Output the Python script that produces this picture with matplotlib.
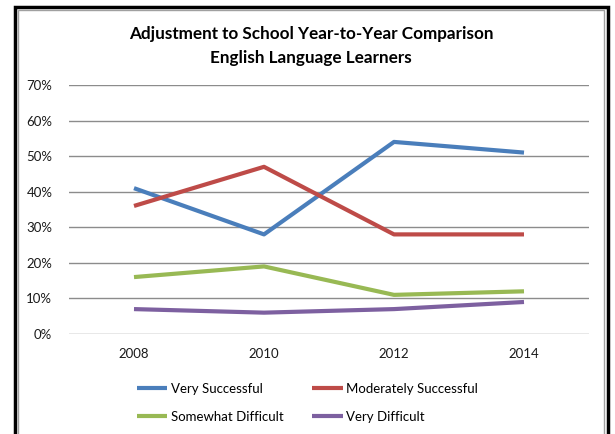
import matplotlib.pyplot as plt
from matplotlib.patches import Rectangle
from matplotlib.ticker import FuncFormatter

# survey years and share of students per adjustment rating
years = ['2008', '2010', '2012', '2014']
very_successful = [41, 28, 54, 51]
moderately_successful = [36, 47, 28, 28]
somewhat_difficult = [16, 19, 11, 12]
very_difficult = [7, 6, 7, 9]

series = [
    ('Very Successful', very_successful, '#4A7EBB'),
    ('Moderately Successful', moderately_successful, '#BE4B48'),
    ('Somewhat Difficult', somewhat_difficult, '#98B954'),
    ('Very Difficult', very_difficult, '#7D60A0'),
]

plt.rcParams['font.family'] = ['Lato', 'DejaVu Sans']

W, H = 615, 434
fig = plt.figure(figsize=(W / 100, H / 100), dpi=100)

# chart frame: black outer border plus thin gray inner border
fig.patches.append(Rectangle((15 / W, -0.1), 593 / W, 1.1 - 7 / H,
                             transform=fig.transFigure, fill=False,
                             edgecolor='black', linewidth=2.5))
fig.patches.append(Rectangle((18 / W, -0.1), 586 / W, 1.1 - 10 / H,
                             transform=fig.transFigure, fill=False,
                             edgecolor='#A0A0A0', linewidth=1))

ax = fig.add_axes([69 / W, 1 - 334 / H, 520 / W, 249 / H])
x = range(len(years))
lines = []
for name, vals, color in series:
    ln, = ax.plot(x, vals, color=color, linewidth=3, label=name,
                  solid_capstyle='butt')
    lines.append(ln)

ax.set_xlim(-0.5, len(years) - 0.5)
ax.set_ylim(0, 70)
ax.set_yticks(range(0, 71, 10))
ax.yaxis.set_major_formatter(FuncFormatter(lambda v, p: f'{int(v)}%'))
ax.set_xticks(list(x))
ax.set_xticklabels(years)
ax.grid(axis='y', color='#8C8C8C', linewidth=1)
ax.set_axisbelow(True)
for s in ax.spines.values():
    s.set_visible(False)
ax.tick_params(length=0, labelsize=9.5, colors='#1A1A1A')
ax.tick_params(axis='y', pad=12)
ax.tick_params(axis='x', pad=10)

fig.text(311 / W, 1 - 34 / H, 'Adjustment to School Year-to-Year Comparison',
         ha='center', va='center', fontsize=12.3, fontweight='bold')
fig.text(311 / W, 1 - 58 / H, 'English Language Learners',
         ha='center', va='center', fontsize=12.3, fontweight='bold')

# legend filled row by row (matplotlib fills columns first)
order = [0, 2, 1, 3]
fig.legend([lines[i] for i in order], [series[i][0] for i in order],
           loc='upper left', bbox_to_anchor=(125 / W, 1 - 371 / H),
           ncol=2, frameon=False, fontsize=9.5, handlelength=2.3,
           handletextpad=0.25, columnspacing=2.2, labelspacing=1.2)

fig.savefig('out.png', dpi=100)
